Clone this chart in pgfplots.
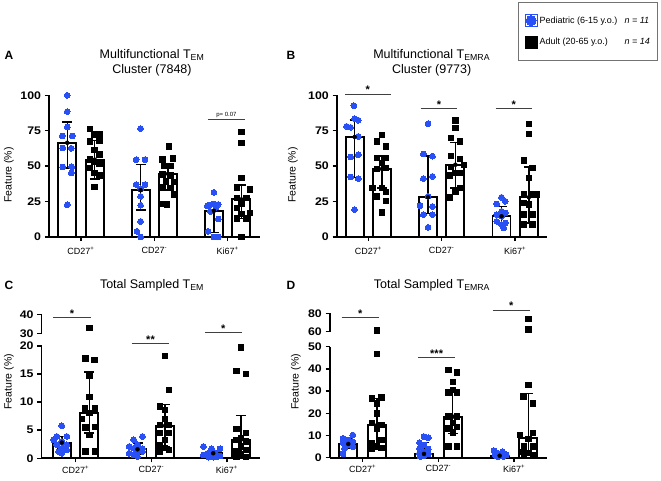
\documentclass[border=0pt]{standalone}
\usepackage{pgfplots}
\pgfplotsset{compat=1.18}
\usepackage{fontspec}
\setmainfont{Liberation Sans}
\definecolor{pblue}{RGB}{40,80,245}
\pgfplotsset{
  every non boxed x axis/.append style={x axis line style={-}},
  every non boxed y axis/.append style={y axis line style={-}},
  common/.style={scale only axis, anchor=south west, clip=false,
    axis line style={-, line width=1.8pt},
    tick align=outside, major tick length=4pt,
    major tick style={line width=1.5pt, black},
    yticklabel style={font=\bfseries\fontsize{11}{12}\selectfont, xscale=1.12},
    /pgf/number format/assume math mode=true},
  panel/.style={axis lines=left, common,
    xtick={1,2,3}, xticklabels={CD27\textsuperscript{+},CD27\textsuperscript{-},Ki67\textsuperscript{+}},
    xticklabel style={font=\fontsize{9}{11}\selectfont}},
  upper/.style={axis x line=none, axis y line=left, common, xtick=\empty},
  bars/.style={ybar, bar width=18pt, bar shift=0pt, fill=white, draw=black, line width=1.9pt},
  ped/.style={only marks, mark=*, mark size=2.9pt, color=pblue, mark options={draw=pblue, fill=pblue, line width=0pt}},
  adu/.style={only marks, mark=square*, mark size=2.7pt, color=black, mark options={line width=0pt}},
  errs/.style={only marks, mark=none, black, error bars/.cd, y dir=both, y explicit,
    error bar style={line width=1.5pt, black},
    error mark options={rotate=90, mark size=5pt, line width=1.5pt, black}},
}
\tikzset{sigl/.style={black!75, line width=0.8pt},
  star/.style={anchor=south, inner sep=0pt, font=\bfseries\fontsize{11}{12}\selectfont}}
\begin{document}
\begin{tikzpicture}[x=1pt,y=1pt]
\path[use as bounding box] (0,0) rectangle (661,480);

% ---------------- Panel A ----------------
\begin{axis}[panel, at={(49pt,243pt)}, width=211pt, height=141.7pt,
  xmin=0.564, xmax=3.441, ymin=0, ymax=100, ytick={0,25,50,75,100},
  xticklabel style={yshift=-3pt}]
\addplot[bars] coordinates {(0.813,66.5) (1.813,33) (2.813,18.5)};
\addplot[bars] coordinates {(1.187,54.6) (2.187,44.6) (3.187,26.5)};
\addplot[ped] coordinates {(0.813,100) (0.813,88.5) (0.813,77.6) (0.745,71.3) (0.881,71.3) (0.753,62.8) (0.868,62.6) (0.753,49.4) (0.873,49.6) (0.868,45.2) (0.813,22.8)
 (1.813,76.5) (1.753,54.6) (1.873,54.6) (1.753,37) (1.873,37) (1.813,34) (1.813,28.7) (1.813,22.4) (1.813,11) (1.763,4) (1.813,0)
 (2.813,31.5) (2.813,23.3) (2.873,23) (2.753,22.4) (2.723,22) (2.843,21) (2.763,18) (2.873,12.7) (2.733,4) (2.813,0) (2.873,0)};
\addplot[adu] coordinates {(1.119,76.2) (1.255,72.7) (1.187,72.2) (1.119,67.5) (1.255,68) (1.187,61.6) (1.255,58.1) (1.119,54.6) (1.187,52.9) (1.255,51.5) (1.119,48.7) (1.187,45.2) (1.255,43.5) (1.187,35.3)
 (2.197,64) (2.255,55.3) (2.110,54.6) (2.133,49.9) (2.223,49.9) (2.110,44) (2.223,43.5) (2.157,39.3) (2.267,39) (2.119,35) (2.223,34.6) (2.267,29.9) (2.097,23.3) (2.177,22.8)
 (3.187,74) (3.187,66.5) (3.187,41.6) (3.127,35) (3.307,33.4) (3.127,27.5) (3.257,27.5) (3.187,23.3) (3.127,20.5) (3.307,17) (3.187,16.2) (3.127,13) (3.257,13) (3.187,0)};
\addplot[errs] coordinates {(0.813,66.5) += (0,14.5) -= (0,17.7) (1.813,33) += (0,18) -= (0,14) (2.813,18.5) += (0,4.5) -= (0,15.2)
 (1.187,54.6) += (0,13.4) -= (0,13.6) (2.187,44.6) += (0,6.4) -= (0,11.6) (3.187,26.5) += (0,10.3) -= (0,13.5)};
\draw[sigl] (axis cs:2.731,83.3) -- (axis cs:3.236,83.3);
\node[anchor=south, inner sep=1.5pt, font=\fontsize{6}{7}\selectfont] at (axis cs:2.983,83.3) {p= 0.07};
\end{axis}

% ---------------- Panel B ----------------
\begin{axis}[panel, at={(336.7pt,243pt)}, width=210pt, height=141.7pt,
  xmin=0.570, xmax=3.429, ymin=0, ymax=100, ytick={0,25,50,75,100},
  xticklabel style={yshift=-3pt}]
\addplot[bars] coordinates {(0.814,70.6) (1.814,28) (2.814,14.6)};
\addplot[bars] coordinates {(1.186,48) (2.186,51) (3.186,28)};
\addplot[ped] coordinates {(0.804,92.7) (0.814,83.5) (0.864,82.4) (0.704,78.1) (0.759,77.4) (0.864,71) (0.864,58.1) (0.759,56.5) (0.759,42.4) (0.864,41.2) (0.814,19.3)
 (1.814,80) (1.749,58.6) (1.874,57) (1.749,41.2) (1.874,42.8) (1.814,28.7) (1.704,22.1) (1.874,21.6) (1.749,15.8) (1.874,15.8) (1.814,6.8)
 (2.814,28) (2.864,25.2) (2.749,23.3) (2.814,18.1) (2.864,17) (2.749,15.8) (2.814,14.6) (2.749,11) (2.864,9.9) (2.814,8.7) (2.844,6.4)};
\addplot[adu] coordinates {(1.186,71.8) (1.116,67.5) (1.241,64) (1.121,55.8) (1.241,55.8) (1.186,52.2) (1.121,48.2) (1.241,48.7) (1.056,34.6) (1.186,34.6) (1.241,31.8) (1.121,28.7) (1.241,25.2) (1.186,17.4)
 (2.186,82.1) (2.186,76.9) (2.126,70) (2.246,67.5) (2.126,57) (2.246,55) (2.306,51) (2.126,49.4) (2.186,45) (2.246,45) (2.116,43.5) (2.246,34.6) (2.186,32.2) (2.116,28)
 (3.186,79.8) (3.186,72.9) (3.116,53.9) (3.236,48.7) (3.186,41.6) (3.116,30.4) (3.236,29.9) (3.296,29.9) (3.116,24) (3.186,22.8) (3.116,15.8) (3.236,15.8) (3.236,8.7) (3.116,8.7)};
\addplot[errs] coordinates {(0.814,70.6) += (0,11.8) -= (0,28.5) (1.814,28) += (0,29) -= (0,11.5) (2.814,14.6) += (0,7) -= (0,5.9)
 (1.186,48) += (0,9) -= (0,13.4) (2.186,51) += (0,15.8) -= (0,16.4) (3.186,28) += (0,21.4) -= (0,18)};
\draw[sigl] (axis cs:0.683,100.9) -- (axis cs:1.305,100.9);
\node[star] at (axis cs:0.994,100.9) {*};
\draw[sigl] (axis cs:1.713,90.5) -- (axis cs:2.212,90.5);
\node[star] at (axis cs:1.962,90.5) {*};
\draw[sigl] (axis cs:2.733,90.5) -- (axis cs:3.225,90.5);
\node[star] at (axis cs:2.979,90.5) {*};
\end{axis}

% ---------------- Panel C ----------------
\begin{axis}[panel, at={(41.5pt,21.7pt)}, width=218.5pt, height=112.3pt,
  xmin=0.550, xmax=3.436, ymin=0, ymax=20, ytick={0,5,10,15,20}]
\addplot[bars] coordinates {(0.818,2.8) (1.818,1.6) (2.818,0.9)};
\addplot[bars] coordinates {(1.182,8.0) (2.182,5.8) (3.182,3.3)};
\addplot[ped] coordinates {(0.818,5.8) (0.752,3.9) (0.884,3.9) (0.708,3.3) (0.818,3.0) (0.752,2.4) (0.884,2.4) (0.818,1.8) (0.884,1.5) (0.774,1.2) (0.818,0.9)
 (1.768,3.3) (1.884,3.9) (1.818,2.4) (1.708,2.1) (1.768,1.8) (1.884,1.7) (1.818,1.2) (1.708,0.9) (1.768,0.6) (1.818,0.3) (1.884,1.2)
 (2.688,2.1) (2.798,1.7) (2.908,1.7) (2.748,0.9) (2.848,0.9) (2.688,0.6) (2.798,0.4) (2.868,0.3) (2.758,0.2) (2.818,0.2) (2.908,0.4)};
\addplot[adu] coordinates {(1.132,17.8) (1.248,17.5) (1.182,14.7) (1.182,10.9) (1.125,8.9) (1.257,8.9) (1.182,8.1) (1.082,7.0) (1.257,5.6) (1.132,5.5) (1.182,4.2) (1.132,1.2) (1.257,1.2)
 (2.182,18.2) (2.232,12.2) (2.112,9.2) (2.182,8.6) (2.182,7.0) (2.112,5.9) (2.232,5.9) (2.112,4.5) (2.232,4.5) (2.182,3.3) (2.112,2.4) (2.182,1.8) (2.232,1.5) (2.112,1.2)
 (3.182,19.7) (3.125,15.5) (3.248,15) (3.125,5.2) (3.248,4.5) (3.182,3.6) (3.125,3.3) (3.248,3.0) (3.182,2.1) (3.125,1.2) (3.248,1.5) (3.182,0.8) (3.125,0.3) (3.248,0.2)};
\addplot[errs] coordinates {(0.818,2.8) += (0,1.1) -= (0,1.0) (1.818,1.6) += (0,1.1) -= (0,0.8) (2.818,0.9) += (0,0.3) -= (0,0.5)
 (1.182,8.0) += (0,7.4) -= (0,3.5) (2.182,5.8) += (0,3.8) -= (0,3.7) (3.182,3.3) += (0,4.3) -= (0,2.3)};
\draw[sigl] (axis cs:0.706,25.04) -- (axis cs:1.199,25.04);
\node[star] at (axis cs:0.952,25.04) {*};
\draw[sigl] (axis cs:1.741,20.48) -- (axis cs:2.238,20.48);
\node[star] at (axis cs:1.990,20.48) {**};
\draw[sigl] (axis cs:2.709,22.37) -- (axis cs:3.194,22.37);
\node[star] at (axis cs:2.951,22.37) {*};
\end{axis}
\begin{axis}[upper, at={(41.5pt,146.7pt)}, width=218.5pt, height=19pt,
  xmin=0.550, xmax=3.436, ymin=30, ymax=40, ytick={30,40}]
\addplot[adu] coordinates {(1.182,32.7)};
\end{axis}

% ---------------- Panel D ----------------
\begin{axis}[panel, at={(329.7pt,22.3pt)}, width=217pt, height=111pt,
  xmin=0.564, xmax=3.432, ymin=0, ymax=50, ytick={0,10,20,30,40,50}]
\addplot[bars] coordinates {(0.81,6.2) (1.81,1.7) (2.81,0.9)};
\addplot[bars] coordinates {(1.19,14.7) (2.19,18.5) (3.19,8.7)};
\addplot[ped] coordinates {(0.87,10.2) (0.74,8.7) (0.81,8.0) (0.87,7.2) (0.74,6.8) (0.81,5.7) (0.87,5.0) (0.76,4.2) (0.74,1.7) (0.83,6.5) (0.78,7.2)
 (1.81,9.5) (1.867,9.0) (1.75,6.8) (1.81,5.7) (1.75,4.2) (1.867,3.9) (1.81,2.7) (1.75,2.0) (1.867,1.7) (1.81,0.9) (1.76,0.5)
 (2.735,3.2) (2.85,2.7) (2.79,2.0) (2.75,1.2) (2.81,1.7) (2.867,1.7) (2.77,0.8) (2.836,0.8) (2.9,1.2) (2.79,0.5) (2.86,0.5)};
\addplot[adu] coordinates {(1.19,46.7) (1.12,26.7) (1.25,27.2) (1.19,24.5) (1.19,20) (1.12,15.5) (1.25,14.7) (1.19,13.2) (1.25,8.0) (1.12,6.5) (1.19,5.0) (1.12,4.2) (1.25,4.5)
 (2.133,39.5) (2.243,38.4) (2.19,34.2) (2.133,29.3) (2.243,29.3) (2.19,30.5) (2.133,18.5) (2.243,18.5) (2.19,15.5) (2.243,13.7) (2.133,13.2) (2.19,11.3) (2.133,5.0) (2.243,5.0)
 (3.19,32.7) (3.124,27.5) (3.247,24.5) (3.247,11.0) (3.08,10.2) (3.19,8.3) (3.133,5.0) (3.247,5.0) (3.102,2.7) (3.19,2.0) (3.247,1.2) (3.133,1.2)};
\addplot[errs] coordinates {(0.81,6.2) += (0,2.5) -= (0,2.0) (1.81,1.7) += (0,5.1) -= (0,0.8) (2.81,0.9) += (0,0.9) -= (0,0.5)
 (1.19,14.7) += (0,12) -= (0,9.7) (2.19,18.5) += (0,12) -= (0,7.5) (3.19,8.7) += (0,20.3) -= (0,6.7)};
\draw[sigl] (axis cs:0.722,63.06) -- (axis cs:1.215,63.06);
\node[star] at (axis cs:0.968,63.06) {*};
\draw[sigl] (axis cs:1.735,45.2) -- (axis cs:2.220,45.2);
\node[star] at (axis cs:1.977,45.2) {***};
\draw[sigl] (axis cs:2.718,66.5) -- (axis cs:3.212,66.5);
\node[star] at (axis cs:2.965,66.5) {*};
\end{axis}
\begin{axis}[upper, at={(329.7pt,148.3pt)}, width=217pt, height=18.4pt,
  xmin=0.564, xmax=3.432, ymin=60, ymax=80, ytick={60,80}]
\addplot[adu] coordinates {(1.19,61.1) (3.19,73.8) (3.19,62.5)};
\end{axis}

% ---------------- Legend ----------------
\begin{axis}[at={(518.3pt,420pt)}, anchor=south west, scale only axis, width=138.4pt, height=58.3pt,
  hide axis, xmin=0, xmax=1, ymin=0, ymax=1,
  legend image code/.code={\path (-6pt,-6pt) rectangle (6pt,6pt); \draw[#1] plot coordinates {(0pt,0pt)};},
  legend style={at={(0,1)}, anchor=north west, draw=black!55, line width=0.8pt,
    font=\fontsize{9}{10}\selectfont, inner xsep=6pt, inner ysep=12pt, row sep=9pt,
    legend cell align=left}]
\addlegendimage{only marks, mark=*, mark size=5pt, pblue, mark options={fill=pblue, draw=pblue, line width=0pt}}
\addlegendentry{\makebox[85pt][l]{Pediatric (6-15 y.o.)}\textit{n = 11}}
\addlegendimage{only marks, mark=square*, mark size=5.8pt, black, mark options={line width=0pt}}
\addlegendentry{\makebox[85pt][l]{Adult (20-65 y.o.)}\textit{n = 14}}
\end{axis}

% ---------------- Texts ----------------
\begin{scope}[every node/.style={font=\fontsize{12.5}{14}\selectfont}]
\node at (152,425) {Multifunctional T\textsubscript{EM}};
\node at (152,410) {Cluster (7848)};
\node at (431.7,425) {Multifunctional T\textsubscript{EMRA}};
\node at (431.7,410) {Cluster (9773)};
\node at (152,195) {Total Sampled T\textsubscript{EM}};
\node at (432,195) {Total Sampled T\textsubscript{EMRA}};
\end{scope}
\begin{scope}[every node/.style={font=\bfseries\fontsize{12}{14}\selectfont}]
\node at (9,425) {A};
\node at (291,425) {B};
\node at (9,195) {C};
\node at (291,195) {D};
\end{scope}
\begin{scope}[every node/.style={font=\fontsize{10.5}{12}\selectfont, rotate=90}]
\node at (9,305) {Feature (\%)};
\node at (293,305) {Feature (\%)};
\node at (9,98.3) {Feature (\%)};
\node at (296,98.3) {Feature (\%)};
\end{scope}
\end{tikzpicture}
\end{document}
